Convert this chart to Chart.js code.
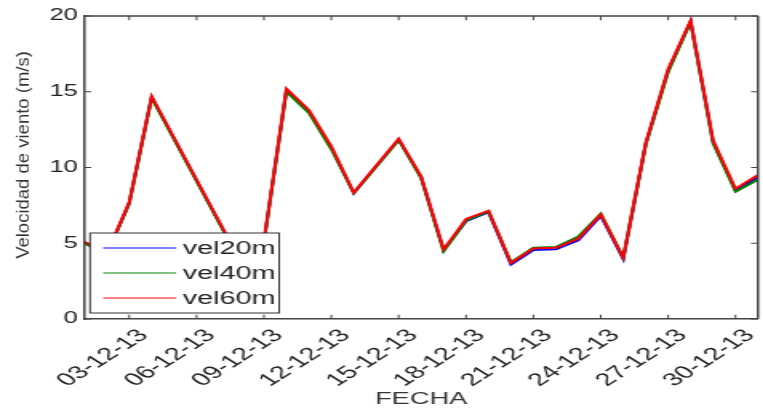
<!DOCTYPE html>
<html><head><meta charset="utf-8">
<script src="https://cdn.jsdelivr.net/npm/chart.js@4.4.0/dist/chart.umd.min.js"></script>
<style>
html,body{margin:0;padding:0;background:#fff;overflow:hidden;width:763px;height:410px;}
#wrap{position:absolute;left:0;top:0;width:481px;height:410px;transform:scaleX(1.6);transform-origin:0 0;}
canvas{display:block;}
</style></head><body>
<div id="wrap"><canvas id="c" width="481" height="410"></canvas></div>
<script>
// ---- data (day of December 2013) ----
const days   = [1, 2, 3, 4, 8, 9, 10, 11, 12, 13, 15, 16, 17, 18, 19, 20, 21, 22, 23, 24, 25, 26, 27, 28, 29, 30, 31];
const vel20m = [5.05, 4.25, 7.65, 14.65, 3.65, 5.1, 15.1, 13.7, 11.3, 8.3, 11.85, 9.35, 4.55, 6.45, 7.05, 3.6, 4.55, 4.6, 5.2, 6.8, 3.95, 11.55, 16.4, 19.65, 11.7, 8.5, 9.35];
const vel40m = [5.0, 4.25, 7.6, 14.6, 3.6, 5.1, 15.0, 13.6, 11.2, 8.3, 11.8, 9.3, 4.45, 6.5, 7.1, 3.75, 4.7, 4.75, 5.45, 6.95, 4.05, 11.5, 16.3, 19.6, 11.6, 8.4, 9.2];
const vel60m = [5.1, 4.3, 7.7, 14.7, 3.7, 5.15, 15.2, 13.8, 11.4, 8.35, 11.9, 9.4, 4.6, 6.6, 7.15, 3.7, 4.65, 4.7, 5.3, 6.9, 4.05, 11.6, 16.5, 19.7, 11.8, 8.6, 9.5];
const tickDays   = [3, 6, 9, 12, 15, 18, 21, 24, 27, 30];
const tickLabels = ['03-12-13','06-12-13','09-12-13','12-12-13','15-12-13','18-12-13','21-12-13','24-12-13','27-12-13','30-12-13'];
const yTicks = [0, 5, 10, 15, 20];
const seriesNames  = ['vel20m', 'vel40m', 'vel60m'];
const seriesColors = ['#0000ff', '#008000', '#ff0000'];
const xTitle = 'FECHA';
const yTitle = 'Velocidad de viento (m/s)';

const SX = 1.6;
const FONT = '"Liberation Sans", Arial, Helvetica, sans-serif';
const series = [vel20m, vel40m, vel60m];

const extras = {
  id: 'extras',
  afterDraw(chart) {
    const ctx = chart.ctx, a = chart.chartArea;
    const xs = chart.scales.x, ys = chart.scales.y;
    ctx.save();
    // top & right borders
    ctx.strokeStyle = '#444'; ctx.lineWidth = 1.5;
    ctx.beginPath();
    ctx.moveTo(a.left, a.top); ctx.lineTo(a.right, a.top);
    ctx.moveTo(a.right, a.top); ctx.lineTo(a.right, a.bottom);
    ctx.stroke();
    // inward ticks
    ctx.lineWidth = 1; ctx.strokeStyle = '#444';
    ctx.beginPath();
    tickDays.forEach(d => {
      const px = xs.getPixelForValue(d);
      ctx.moveTo(px, a.bottom); ctx.lineTo(px, a.bottom - 4.3);
      ctx.moveTo(px, a.top); ctx.lineTo(px, a.top + 4.3);
    });
    yTicks.forEach(v => {
      const py = ys.getPixelForValue(v);
      ctx.moveTo(a.left, py); ctx.lineTo(a.left + 4.3, py);
      ctx.moveTo(a.right, py); ctx.lineTo(a.right - 4.3, py);
    });
    ctx.stroke();
    // legend
    const lx = a.left + 3.6, ly = 233, lw = 118.2, lh = 80;
    ctx.fillStyle = '#fff';
    ctx.fillRect(lx, ly, lw, lh);
    ctx.strokeStyle = '#333'; ctx.lineWidth = 1;
    ctx.strokeRect(lx, ly, lw, lh);
    ctx.font = '18px ' + FONT;
    ctx.textBaseline = 'middle'; ctx.textAlign = 'left';
    chart.data.datasets.forEach((ds, i) => {
      const y = ly + 15 + i * 25;
      ctx.strokeStyle = ds.borderColor; ctx.lineWidth = 1;
      ctx.beginPath(); ctx.moveTo(lx + 8.2, y); ctx.lineTo(lx + 53.8, y); ctx.stroke();
      ctx.fillStyle = '#222';
      ctx.fillText(ds.label, lx + 58, y + 1);
    });
    // y-axis title (counter-scaled so it is not stretched)
    ctx.scale(1 / SX, 1);
    ctx.translate(23, 155);
    ctx.rotate(-Math.PI / 2);
    ctx.font = '18.5px ' + FONT;
    ctx.fillStyle = '#333';
    ctx.textAlign = 'center'; ctx.textBaseline = 'middle';
    ctx.fillText(yTitle, 0, 0);
    ctx.restore();
  }
};

new Chart(document.getElementById('c'), {
  type: 'line',
  data: {
    datasets: seriesNames.map((name, i) => ({
      label: name,
      data: days.map((d, j) => ({ x: d, y: series[i][j] })),
      borderColor: seriesColors[i],
      backgroundColor: seriesColors[i],
      borderWidth: 2,
      pointRadius: 0,
      tension: 0,
      fill: false,
      order: 3 - i
    }))
  },
  options: {
    responsive: false,
    animation: false,
    devicePixelRatio: 1,
    layout: { padding: { top: 16, right: 0, bottom: 0, left: 0 } },
    plugins: { legend: { display: false }, tooltip: { enabled: false } },
    scales: {
      x: {
        type: 'linear', min: 1, max: 31,
        grid: { display: false, drawTicks: false },
        border: { display: true, color: '#444', width: 1.5 },
        afterBuildTicks: s => { s.ticks = tickDays.map(v => ({ value: v })); },
        afterFit: s => { s.height = 91; },
        ticks: {
          autoSkip: false, minRotation: 45, maxRotation: 45,
          font: { family: FONT, size: 18 }, color: '#222', padding: 6, labelOffset: 9,
          callback: v => tickLabels[tickDays.indexOf(v)]
        },
        title: { display: true, text: xTitle, font: { family: FONT, size: 17 }, color: '#333', padding: { top: 0, bottom: 0 } }
      },
      y: {
        min: 0, max: 20,
        grid: { display: false, drawTicks: false },
        border: { display: true, color: '#444', width: 1.5 },
        afterBuildTicks: s => { s.ticks = yTicks.map(v => ({ value: v })); },
        afterFit: s => { s.width = 52.7; },
        ticks: { font: { family: FONT, size: 16 }, color: '#222', padding: 4 }
      }
    }
  },
  plugins: [extras]
});
</script>
</body></html>
